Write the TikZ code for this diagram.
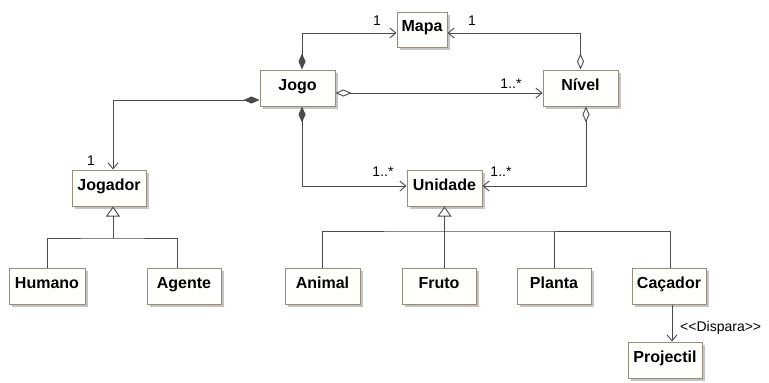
\documentclass[tikz,border=0pt]{standalone}
\usepackage{fontspec}
\setmainfont{Liberation Sans}
\usetikzlibrary{arrows.meta,shadows}
\definecolor{clsborder}{HTML}{9A8C7C}
\definecolor{clsfill}{HTML}{FFFFFC}
\definecolor{clsshadow}{HTML}{C4C4C4}
\definecolor{linkcol}{HTML}{4A4A4A}
\begin{document}
\begin{tikzpicture}[x=1pt,y=-1pt,
  cls/.style={draw=clsborder, line width=1pt, fill=clsfill, inner sep=0pt,
    minimum width=75pt, minimum height=36pt, text height=12pt, text depth=8pt,
    font=\bfseries\fontsize{16}{16}\selectfont,
    drop shadow={shadow xshift=3pt, shadow yshift=-3pt, fill=clsshadow, opacity=1}},
  link/.style={draw=linkcol, line width=0.9pt},
  compnav/.style={arrows={{Diamond[length=16pt,width=7pt,fill=linkcol]}-{Straight Barb[length=6pt,width=10pt]}}},
  aggnav/.style={arrows={{Diamond[length=16pt,width=7pt,fill=white]}-{Straight Barb[length=6pt,width=10pt]}}},
  nav/.style={arrows={-{Straight Barb[length=6pt,width=10pt]}}},
  gentip/.style={arrows={-{Triangle[length=10pt,width=14pt,fill=white]}}},
  lbl/.style={font=\fontsize{14}{14}\selectfont, text=black, inner sep=0pt}
]
\useasboundingbox (0,0) rectangle (769,383);

% classes
\node[cls, minimum width=50pt, minimum height=35pt] (mapa) at (422,29.5) {Mapa};
\node[cls] (jogo) at (297.5,88) {Jogo};
\node[cls] (nivel) at (580.5,88) {Nível};
\node[cls, minimum width=74pt] (jogador) at (109,188) {Jogador};
\node[cls] (unidade) at (444.5,188) {Unidade};
\node[cls, minimum width=76pt] (humano) at (47,286) {Humano};
\node[cls, minimum width=74pt] (agente) at (184,286) {Agente};
\node[cls] (animal) at (322.5,286) {Animal};
\node[cls, minimum width=74pt] (fruto) at (439,286) {Fruto};
\node[cls, minimum width=74pt] (planta) at (554,286) {Planta};
\node[cls, minimum width=74pt] (cacador) at (669,286) {Caçador};
\node[cls, minimum width=74pt] (projectil) at (665,360) {Projectil};

% associations
\draw[link, compnav] ([xshift=4.5pt]jogo.north) |- ([yshift=-3.5pt]mapa.west);
\draw[link, aggnav] (nivel.north) |- ([yshift=-3.5pt]mapa.east);
\draw[link, aggnav] ([yshift=-5pt]jogo.east) -- ([yshift=-5pt]nivel.west);
\draw[link, compnav] ([yshift=-12pt]jogo.west) -| ([xshift=4pt]jogador.north);
\draw[link, compnav] ([xshift=4.5pt]jogo.south) |- ([yshift=2pt]unidade.west);
\draw[link, aggnav] ([xshift=5.5pt]nivel.south) |- ([yshift=2pt]unidade.east);
\draw[link, nav] ([xshift=3pt]cacador.south) -- ([xshift=7pt]projectil.north);

% generalizations
\coordinate (jbus) at (113,238);
\draw[link, gentip] (jbus) -- (jbus |- jogador.south);
\draw[link] (humano.north) |- (jbus) -| ([xshift=-7pt]agente.north);

\coordinate (ubus) at (444.5,231);
\draw[link, gentip] (ubus) -- (unidade.south);
\draw[link] (animal.north) |- (ubus) -| ([xshift=1pt]cacador.north);
\draw[link] (ubus) -- (ubus |- fruto.north);
\draw[link] (planta.north) -- (planta.north |- ubus);

% multiplicities and stereotype
\node[lbl] (m1a) at (377,21) {1};
\node[lbl] (m1b) at (472,21) {1};
\node[lbl] (n1) at (511,84) {1..*};
\node[lbl] (j1) at (91,161) {1};
\node[lbl] (u1) at (383,172) {1..*};
\node[lbl] (u2) at (501,172) {1..*};
\node[lbl, anchor=west] (disp) at (680,328) {<{}<Dispara>{}>};
\end{tikzpicture}
\end{document}
